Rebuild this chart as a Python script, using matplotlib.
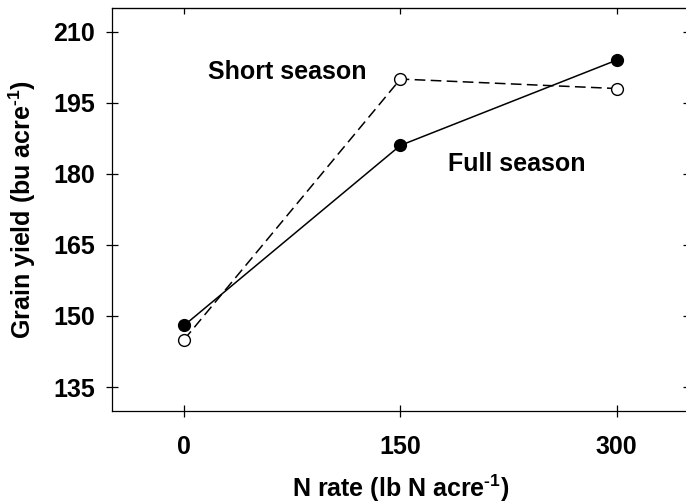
import matplotlib
matplotlib.use("Agg")
import matplotlib.pyplot as plt

plt.rcParams['font.family'] = ['Liberation Sans', 'DejaVu Sans']
plt.rcParams['font.weight'] = 'bold'
plt.rcParams['mathtext.fontset'] = 'custom'
plt.rcParams['mathtext.rm'] = 'Liberation Sans:bold'
plt.rcParams['mathtext.it'] = 'Liberation Sans:bold'
plt.rcParams['mathtext.bf'] = 'Liberation Sans:bold'

n_rate = [0, 150, 300]
full_season = [148, 186, 204]
short_season = [145, 200, 198]
x_ticks = [0, 150, 300]
y_ticks = [135, 150, 165, 180, 195, 210]

FS = 18

fig = plt.figure(figsize=(6.86, 5.04), dpi=100)
ax = fig.add_axes([112 / 686, 1 - 410.7 / 504, 576.8 / 686, 402.7 / 504])

ax.plot(n_rate, short_season, color='black', linestyle=(0, (7, 3.5)), linewidth=1.1,
        marker='o', markersize=8.5, markerfacecolor='white', markeredgecolor='black',
        markeredgewidth=1.0, zorder=3)
ax.plot(n_rate, full_season, color='black', linestyle='-', linewidth=1.1,
        marker='o', markersize=8.5, markerfacecolor='black', markeredgecolor='black',
        zorder=4)

ax.text(16.6, 200, 'Short season', fontsize=FS, fontweight='bold')
ax.text(183, 180.7, 'Full season', fontsize=FS, fontweight='bold')

ax.set_xlim(-50, 350)
ax.set_ylim(130, 215)
ax.set_xticks(x_ticks)
ax.set_yticks(y_ticks)

# crossing ticks on the bottom and left, short inward ticks on top and right
ax.tick_params(axis='both', which='major', direction='inout', length=8.6,
               width=0.9, labelsize=FS, top=False, right=False)
ax.tick_params(axis='x', pad=13)
ax.tick_params(axis='y', pad=8)

top = ax.secondary_xaxis('top')
top.set_xticks(x_ticks)
top.tick_params(direction='in', length=4.5, width=0.9, labeltop=False)
right = ax.secondary_yaxis('right')
right.set_yticks(y_ticks)
right.tick_params(direction='in', length=4.5, width=0.9, labelright=False)

for s in ax.spines.values():
    s.set_linewidth(0.9)

ax.set_xlabel(r'N rate (lb N acre$^{\text{-1}}$)', fontsize=FS, fontweight='bold', labelpad=10)
ax.set_ylabel(r'Grain yield (bu acre$^{\text{-1}}$)', fontsize=FS, fontweight='bold', labelpad=11)

fig.savefig('out.png', dpi=100)
